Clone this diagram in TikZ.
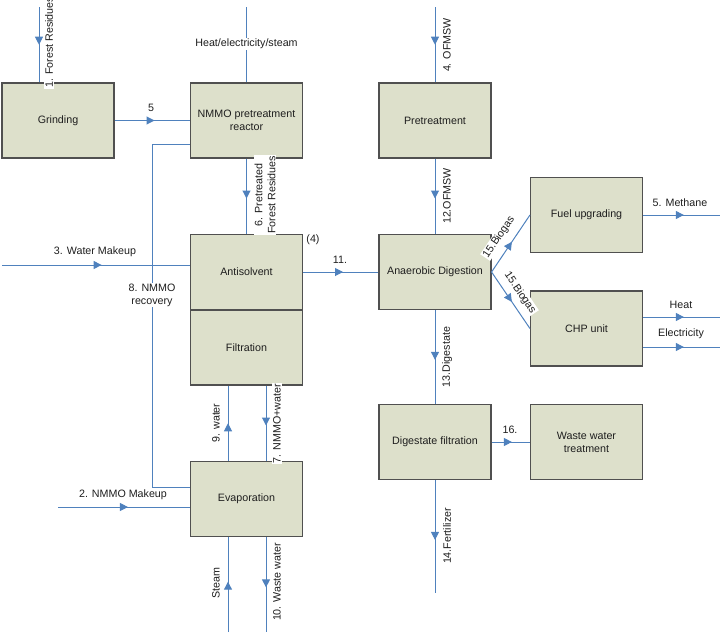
\documentclass[tikz,border=0pt]{standalone}
\usepackage{fontspec}
\setmainfont{Liberation Sans}
\usetikzlibrary{arrows.meta,decorations.markings,calc}
\definecolor{boxfill}{RGB}{221,224,203}
\definecolor{boxline}{RGB}{80,80,80}
\definecolor{flow}{RGB}{79,129,189}
\definecolor{txt}{RGB}{30,30,30}
\begin{document}
\begin{tikzpicture}[x=1pt,y=-1pt,
  font=\fontsize{10.7}{13}\selectfont, text=txt,
  proc/.style={draw=boxline, line width=1.1pt, fill=boxfill, minimum width=112pt, minimum height=75pt, align=center, inner sep=0pt},
  flowline/.style={draw=flow, line width=1pt},
  midarrow/.style={flowline, postaction={decorate}, decoration={markings, mark=at position #1 with {\arrow[flow]{Triangle[length=8pt,width=8pt]}}}},
  midarrow/.default=0.53,
  lbl/.style={fill=white, inner sep=1pt, align=center},
  vlbl/.style={lbl, rotate=90},
]
\useasboundingbox (0,0) rectangle (720,632);
% boxes
\node[proc] (grind) at (58,120.5) {Grinding};
\node[proc] (reactor) at (246.5,120.5) {NMMO pretreatment\\reactor};
\node[proc] (anti) at (246.5,272) {Antisolvent};
\node[proc] (filt) at (246.5,347.5) {Filtration};
\node[proc] (evap) at (246.5,499) {Evaporation};
\node[proc] (pre) at (435,120.5) {Pretreatment};
\node[proc] (ad) at (435,272) {Anaerobic Digestion};
\node[proc] (fuel) at (586.5,215) {Fuel upgrading};
\node[proc] (chp) at (586.5,328.5) {CHP unit};
\node[proc] (dfilt) at (435,442) {Digestate filtration};
\node[proc] (wwt) at (586.5,442) {Waste water\\treatment};
% free ends
\coordinate (fr0) at (39,7);
\coordinate (hs0) at (246.5,7);
\coordinate (rec1) at (152,144);
\coordinate (wm0) at (2,265);
\coordinate (nm0) at (58,507);
\coordinate (st0) at (228,632);
\coordinate (ww1) at (266,632);
\coordinate (of0) at (435,7);
\coordinate (me1) at (720,215);
\coordinate (he1) at (720,317);
\coordinate (el1) at (720,347);
\coordinate (fe1) at (435,593);
% connectors
\draw[midarrow=0.5] (fr0) -- (fr0 |- grind.north);
\draw[flowline] (hs0) -- (reactor.north);
\draw[midarrow] (grind.east) -- (reactor.west);
\draw[flowline] ($(evap.west)+(0,-12)$) -| (rec1) -- (rec1 -| reactor.west);
\draw[midarrow] (reactor.south) -- (anti.north);
\draw[midarrow] (wm0) -- (wm0 -| anti.west);
\draw[midarrow] (anti.east) -- (ad.west);
\draw[midarrow=0.5] ([xshift=-18.5pt]evap.north) -- ([xshift=-18.5pt]filt.south);
\draw[midarrow] ([xshift=19.5pt]filt.south) -- ([xshift=19.5pt]evap.north);
\draw[midarrow] (nm0) -- (nm0 -| evap.west);
\draw[midarrow] (st0) -- (st0 |- evap.south);
\draw[midarrow] (ww1 |- evap.south) -- (ww1);
\draw[midarrow=0.5] (of0) -- (pre.north);
\draw[midarrow] (pre.south) -- (ad.north);
\draw[midarrow] (ad.east) -- (fuel.west);
\draw[midarrow] (ad.east) -- (chp.west);
\draw[midarrow] (fuel.east) -- (me1);
\draw[midarrow] (he1 -| chp.east) -- (he1);
\draw[midarrow] (el1 -| chp.east) -- (el1);
\draw[midarrow] (ad.south) -- (dfilt.north);
\draw[midarrow] (dfilt.east) -- (wwt.west);
\draw[midarrow] (dfilt.south) -- (fe1);
% labels
\node[vlbl, anchor=west] (l1) at (49,89) {1. Forest Residues};
\node[lbl] (lhs) at (246.5,44) {Heat/electricity/steam};
\node (l5) at (151,108) {5};
\node[vlbl] (l6) at (265,195) {6. Pretreated\\Forest Residues};
\node (l4) at (313,240) {(4)};
\node (l3) at (95,252) {3. Water Makeup};
\node[lbl] (l8) at (152,295) {8. NMMO\\recovery};
\node (l11) at (340,260) {11.};
\node[vlbl] (l9) at (216,423) {9. water};
\node[vlbl] (l7) at (277,423.5) {7. NMMO+water};
\node (l2) at (123,495) {2. NMMO Makeup};
\node[vlbl] (lst) at (216,583) {Steam};
\node[vlbl] (l10) at (277,582) {10. Waste water};
\node[vlbl] (lof) at (447,45) {4. OFMSW};
\node[vlbl] (l12) at (447,196) {12.OFMSW};
\node[lbl, rotate=56] (l15a) at (499,237) {15.Biogas};
\node[lbl, rotate=-56] (l15b) at (520,293) {15.Biogas};
\node (lme) at (680,203) {5. Methane};
\node (lhe) at (681,305) {Heat};
\node (lel) at (681,334) {Electricity};
\node[vlbl] (l13) at (447,357) {13.Digestate};
\node (l16) at (510,430) {16.};
\node[vlbl] (l14) at (447,536) {14.Fertilizer};
\end{tikzpicture}
\end{document}
